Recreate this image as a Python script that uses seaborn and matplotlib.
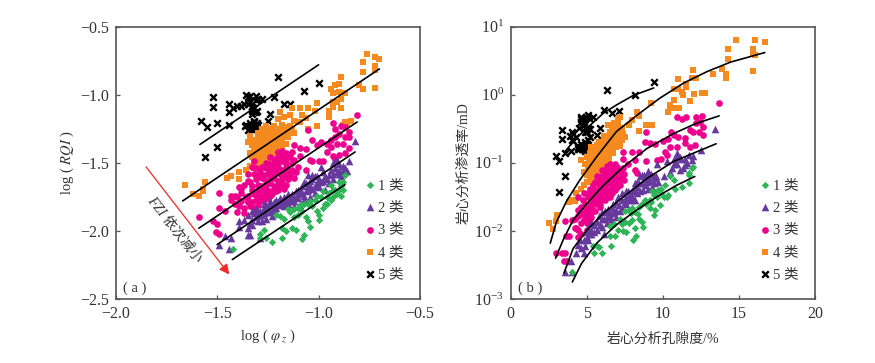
import numpy as np
import pandas as pd
import matplotlib
matplotlib.use("Agg")
import matplotlib.pyplot as plt
import seaborn as sns

sns.set_theme(style="ticks")
FONT = ['Liberation Serif', 'Noto Sans CJK SC', 'DejaVu Sans']
plt.rcParams['font.family'] = FONT
plt.rcParams['mathtext.fontset'] = 'stix'
plt.rcParams['axes.unicode_minus'] = True

CLASS_LABELS = ['1 类', '2 类', '3 类', '4 类', '5 类']
COLORS = ['#2FB457', '#663A9C', '#EC008C', '#F58A20', '#000000']
MARKERS = ['D', '^', 'o', 's', 'x']
SIZES = [14, 30, 23, 21, 22]

# panel (a): log(phi_z), log(RQI)
a1 = [(-1.42,-2.13),(-1.29,-2.02),(-1.27,-1.99),(-1.29,-2.05),(-1.26,-2.05),(-1.23,-2.08),(-1.18,-2.05),(-1.07,-2.03),
      (-1.08,-2.06),(-1.11,-1.99),(-1.18,-1.98),(-1.16,-2.0),(-1.19,-1.89),(-1.17,-1.91),(-1.14,-1.86),(-1.12,-1.90),
      (-1.10,-1.88),(-1.09,-1.81),(-1.07,-1.80),(-1.04,-1.78),(-1.06,-1.90),(-1.05,-1.93),(-1.04,-1.97),(-1.0,-1.92),
      (-1.0,-1.88),(-1.01,-1.85),(-0.98,-1.83),(-0.97,-1.80),(-0.94,-1.77),(-0.93,-1.75),(-0.95,-1.72),(-0.91,-1.73),
      (-0.89,-1.74),(-0.92,-1.70),(-0.89,-1.67),(-0.88,-1.64),(-0.87,-1.59),(-0.94,-1.66),(-0.99,-1.75),(-1.02,-1.77),
      (-1.12,-1.84),(-1.08,-1.85),(-0.90,-1.64),(-0.96,-1.75),(-0.98,-1.71),(-1.03,-1.82),(-1.13,-1.98),(-1.21,-1.88),
      (-1.10,-1.83),(-1.15,-1.84),(-1.05,-1.80),(-1.01,-1.74),(-0.96,-1.80),(-0.90,-1.70),(-0.88,-1.70),(-0.93,-1.70)]
a2 = [(-1.49,-2.10),(-1.44,-2.13),(-1.46,-2.04),(-1.43,-2.05),(-1.35,-2.03),(-1.34,-2.03),(-1.29,-2.05),(-1.39,-1.97),
      (-1.39,-1.93),(-1.35,-1.98),(-1.33,-1.96),(-1.33,-1.92),(-1.30,-1.93),(-1.28,-1.93),(-1.26,-1.91),(-1.23,-1.89),
      (-1.21,-1.87),(-1.32,-1.87),(-1.30,-1.85),(-1.27,-1.83),(-1.25,-1.83),(-1.22,-1.82),(-1.20,-1.81),(-1.17,-1.82),
      (-1.15,-1.80),(-1.12,-1.78),(-1.10,-1.76),(-1.07,-1.74),(-1.05,-1.70),(-1.03,-1.69),(-1.00,-1.68),(-1.26,-1.86),
      (-1.23,-1.85),(-1.21,-1.83),(-1.18,-1.78),(-1.16,-1.76),(-1.13,-1.73),(-1.11,-1.71),(-1.08,-1.67),(-1.06,-1.65),
      (-1.03,-1.62),(-1.01,-1.60),(-1.05,-1.59),(-1.03,-1.59),(-0.99,-1.64),(-0.97,-1.60),(-0.94,-1.55),(-0.93,-1.50),
      (-0.91,-1.48),(-0.90,-1.55),(-0.89,-1.60),(-0.87,-1.54),(-0.85,-1.49),(-0.82,-1.34),(-0.99,-1.53),(-0.97,-1.70),
      (-1.09,-1.81),(-1.12,-1.82),(-1.07,-1.77),(-1.04,-1.75),(-1.02,-1.72),(-0.93,-1.58),(-0.90,-1.58),(-0.88,-1.56),
      (-0.95,-1.65),(-1.30,-1.89),(-1.28,-1.88),(-1.35,-1.88),(-1.19,-1.76),(-1.14,-1.76),(-1.10,-1.70),(-1.08,-1.72),
      (-1.05,-1.66),(-1.01,-1.65),(-0.98,-1.57),(-0.95,-1.59),(-0.92,-1.54),(-1.24,-1.80),(-1.16,-1.79),(-1.27,-1.87),
      (-1.33,-1.85),(-1.31,-1.84),(-1.29,-1.85),(-1.27,-1.80),(-1.26,-1.81),(-1.24,-1.78),(-1.22,-1.79),(-1.21,-1.77),
      (-1.19,-1.80),(-1.17,-1.75),(-1.15,-1.73),(-1.14,-1.78),(-1.12,-1.75),(-1.10,-1.73),(-1.09,-1.69),(-1.07,-1.64),
      (-1.06,-1.71),(-1.04,-1.67),(-1.04,-1.63),(-1.02,-1.67),(-1.02,-1.60),(-1.00,-1.62),(-0.98,-1.63),(-0.96,-1.62),
      (-0.93,-1.62),(-0.91,-1.57),(-0.90,-1.51),(-0.88,-1.52),(-0.92,-1.49),(-0.86,-1.56),(-1.24,-1.86),(-1.31,-1.90),
      (-1.34,-1.94),(-1.37,-1.92)]
a3 = [(-0.81,-1.15),(-0.93,-1.21),(-0.92,-1.25),(-0.89,-1.23),(-0.87,-1.24),(-0.85,-1.27),(-0.85,-1.31),(-0.87,-1.31),
      (-0.90,-1.29),(-0.92,-1.31),(-0.94,-1.33),(-0.96,-1.36),(-0.99,-1.35),(-1.01,-1.37),(-1.03,-1.33),(-1.05,-1.26),
      (-0.88,-1.36),(-0.91,-1.36),(-0.94,-1.38),(-0.96,-1.42),(-0.93,-1.45),(-0.90,-1.44),(-0.87,-1.43),(-0.85,-1.39),
      (-0.92,-1.47),(-0.98,-1.49),(-1.0,-1.49),(-1.04,-1.48),(-1.12,-1.37),(-1.09,-1.39),(-1.06,-1.40),(-1.03,-1.49),
      (-1.12,-1.48),(-1.09,-1.45),(-1.13,-1.42),(-1.06,-1.55),
      (-1.20,-1.42),(-1.18,-1.41),(-1.16,-1.43),(-1.24,-1.46),(-1.22,-1.47),(-1.20,-1.46),(-1.18,-1.45),(-1.16,-1.47),
      (-1.14,-1.46),(-1.26,-1.50),(-1.24,-1.51),(-1.22,-1.50),(-1.20,-1.50),(-1.18,-1.49),(-1.16,-1.51),(-1.13,-1.50),
      (-1.31,-1.54),(-1.28,-1.53),(-1.26,-1.54),(-1.24,-1.55),(-1.22,-1.54),(-1.20,-1.53),(-1.18,-1.55),(-1.16,-1.54),
      (-1.13,-1.55),(-1.10,-1.53),(-1.32,-1.58),(-1.29,-1.57),(-1.27,-1.59),(-1.25,-1.58),(-1.23,-1.59),(-1.21,-1.57),
      (-1.19,-1.58),(-1.17,-1.59),(-1.14,-1.58),(-1.11,-1.57),(-1.31,-1.62),(-1.28,-1.61),(-1.26,-1.63),(-1.24,-1.62),
      (-1.22,-1.61),(-1.20,-1.63),(-1.18,-1.62),(-1.15,-1.62),(-1.12,-1.61),(-1.30,-1.66),(-1.28,-1.67),(-1.26,-1.66),
      (-1.24,-1.65),(-1.22,-1.67),(-1.20,-1.66),(-1.18,-1.65),(-1.16,-1.66),(-1.33,-1.70),(-1.30,-1.71),(-1.28,-1.70),
      (-1.26,-1.69),(-1.24,-1.71),(-1.22,-1.70),(-1.20,-1.70),(-1.35,-1.74),(-1.32,-1.73),(-1.30,-1.75),(-1.28,-1.74),
      (-1.26,-1.73),(-1.24,-1.74),(-1.35,-1.78),(-1.33,-1.79),(-1.31,-1.77),(-1.29,-1.78),(-1.34,-1.82),(-1.32,-1.83),
      (-1.30,-1.81),(-1.59,-1.90),(-1.49,-1.72),(-1.49,-1.83),(-1.46,-1.85),(-1.52,-1.93),(-1.50,-1.95),(-1.505,-2.01),
      (-1.49,-2.02),(-1.43,-1.77),(-1.43,-1.74),(-1.41,-1.74),(-1.40,-1.75),(-1.38,-1.69),(-1.39,-1.68),(-1.35,-1.63),
      (-1.35,-1.58),(-1.34,-1.64),(-1.33,-1.67),(-1.39,-1.82),(-1.40,-1.86),(-1.37,-1.87),(-1.37,-1.83),(-1.35,-1.79),
      (-1.14,-1.60),(-1.17,-1.69),(-1.19,-1.68),(-1.23,-1.73),(-1.21,-1.71),(-1.33,-1.53),(-1.30,-1.60),(-1.41,-1.80),
      (-1.38,-1.78),(-1.36,-1.75),(-1.38,-1.72),(-1.37,-1.66),(-1.32,-1.49),(-1.16,-1.56),(-1.27,-1.77),(-1.25,-1.76)]
a4 = [(-1.66,-1.66),(-1.62,-1.73),(-1.59,-1.74),(-1.56,-1.64),(-1.57,-1.69),(-1.57,-1.71),(-1.45,-1.61),(-1.43,-1.60),
      (-1.39,-1.57),(-1.39,-1.62),(-1.36,-1.55),(-1.34,-1.52),(-1.31,-1.50),
      (-0.76,-0.70),(-0.72,-0.72),(-0.70,-0.74),(-0.78,-0.76),(-0.72,-0.79),(-0.72,-0.82),(-0.78,-0.83),(-0.80,-0.93),
      (-0.72,-0.95),(-0.78,-0.96),(-0.89,-0.87),(-0.92,-0.93),(-0.90,-0.92),(-0.94,-0.96),(-0.93,-0.99),(-0.87,-0.99),
      (-0.90,-0.98),(-0.89,-1.03),(-0.93,-1.05),(-0.91,-1.05),(-0.89,-1.10),(-0.93,-1.09),(-0.95,-1.12),(-0.95,-1.16),
      (-1.01,-1.06),(-1.05,-1.10),(-1.09,-1.10),(-1.13,-1.10),(-1.19,-1.13),(-1.17,-1.16),(-1.14,-1.15),(-1.08,-1.15),
      (-1.06,-1.17),(-1.09,-1.20),(-1.12,-1.19),(-1.02,-1.12),(-1.05,-1.25),(-1.01,-1.23),
      (-1.20,-1.18),(-1.18,-1.22),(-1.16,-1.24),(-1.14,-1.23),(-1.12,-1.28),(-1.22,-1.23),(-1.24,-1.25),(-1.26,-1.23),
      (-1.28,-1.25),(-1.34,-1.30),(-1.35,-1.35),(-1.30,-1.28),(-1.27,-1.29),(-1.25,-1.29),(-1.22,-1.28),(-1.20,-1.29),
      (-1.17,-1.30),(-1.15,-1.31),(-1.29,-1.33),(-1.27,-1.34),(-1.25,-1.34),(-1.22,-1.34),(-1.19,-1.35),(-1.16,-1.36),
      (-1.33,-1.37),(-1.31,-1.39),(-1.28,-1.39),(-1.26,-1.39),(-1.23,-1.39),(-1.21,-1.40),(-1.34,-1.43),(-1.32,-1.44),
      (-1.29,-1.44),(-1.27,-1.44),(-1.24,-1.44),(-1.22,-1.43),(-1.32,-1.48),(-1.30,-1.48),(-1.27,-1.48),(-1.25,-1.48),
      (-1.31,-1.52),(-1.28,-1.52),(-1.32,-1.54),(-0.87,-1.20),(-0.86,-1.21),(-0.88,-1.22),(-0.84,-1.19),
      (-1.32,-1.33),(-1.30,-1.31),(-1.28,-1.30),(-1.26,-1.27),(-1.24,-1.28),(-1.21,-1.25),(-1.19,-1.25),(-1.17,-1.26),
      (-1.15,-1.27),(-1.13,-1.25),(-1.18,-1.32),(-1.20,-1.32),(-1.23,-1.31),(-1.26,-1.32),(-1.30,-1.36),(-1.27,-1.37),
      (-1.24,-1.37),(-1.21,-1.37),(-1.18,-1.38),(-1.32,-1.41),(-1.30,-1.42),(-1.28,-1.42),(-1.25,-1.42),(-1.23,-1.42),
      (-1.33,-1.46),(-1.31,-1.46),(-1.29,-1.47),(-1.26,-1.46),(-1.30,-1.50),(-1.28,-1.50),(-1.32,-1.51)]
a5 = [(-1.52,-1.02),(-1.52,-1.09),(-1.58,-1.19),(-1.55,-1.24),(-1.50,-1.21),(-1.44,-1.22),(-1.50,-1.38),(-1.56,-1.46),
      (-1.44,-1.07),(-1.44,-1.13),(-1.42,-1.10),(-1.38,-1.08),(-1.36,-1.00),(-1.35,-1.02),(-1.31,-1.01),(-1.28,-1.03),
      (-1.35,-1.07),(-1.32,-1.10),(-1.305,-1.12),(-1.33,-1.14),(-1.365,-1.23),(-1.345,-1.23),(-1.32,-1.20),(-1.305,-1.21),
      (-1.33,-1.25),(-1.31,-1.24),(-1.33,-1.22),(-1.35,-1.26),(-1.25,-1.19),(-1.24,-1.14),(-1.22,-1.02),(-1.20,-0.87),
      (-1.17,-1.07),(-1.14,-1.07),(-1.07,-0.97),(-1.00,-0.91),(-1.33,-1.25),(-1.31,-1.04),(-1.33,-1.12),(-1.31,-1.13),
      (-1.32,-1.23),(-1.34,-1.21),(-1.32,-1.26),(-1.30,-1.22),(-1.36,-1.22),(-1.34,-1.24),(-1.32,-1.19),(-1.37,-1.07),
      (-1.34,-1.05),(-1.32,-1.13),(-1.34,-1.01),(-1.30,-1.03),(-1.40,-1.08),(-1.33,-1.09)]
a_lines = [[(-1.425,-2.21),(-0.87,-1.66)], [(-1.50,-2.10),(-0.82,-1.42)], [(-1.59,-1.98),(-0.81,-1.20)],
           [(-1.67,-1.78),(-0.70,-0.81)], [(-1.585,-1.365),(-1.0,-0.78)]]

# panel (b): porosity %, log10 permeability
b1 = [(4.05,-2.61),(5.4,-2.22),(5.65,-2.22),(5.5,-2.32),(6.0,-2.32),(5.8,-2.24),(6.6,-2.22),(6.5,-2.08),(6.85,-2.08),
      (6.5,-1.93),(6.8,-1.9),(7.05,-1.98),(7.6,-2.02),(8.05,-2.14),(8.25,-2.08),(7.2,-1.82),(7.5,-1.87),(7.75,-1.89),
      (7.95,-1.84),(7.75,-1.69),(8.0,-1.67),(8.4,-1.82),(8.6,-1.87),(8.7,-1.94),(8.4,-1.65),(8.6,-1.6),(9.15,-1.55),
      (9.4,-1.77),(9.5,-1.69),(9.8,-1.62),(9.4,-1.47),(9.7,-1.4),(10.25,-1.5),(10.35,-1.47),(10.15,-1.33),(10.45,-1.2),
      (10.7,-1.25),(10.8,-1.38),(11.25,-1.35),(11.7,-1.3),(11.7,-1.18),(11.75,-1.15),(12.0,-1.06),(11.9,-1.08),(9.6,-1.5),
      (9.15,-1.67),(8.9,-1.6),(7.9,-1.74),(8.2,-1.72),(9.3,-1.42),(9.9,-1.38),(9.2,-1.58),(9.9,-1.45),(10.05,-1.5),
      (9.5,-1.43),(8.8,-1.55),(7.5,-1.7),(7.3,-1.9),(8.2,-1.95),(8.35,-1.75),(7.4,-2.0)]
b2 = [(3.55,-2.61),(4.0,-2.61),(3.95,-2.44),(4.3,-2.32),(4.8,-2.32),(4.4,-2.21),(4.9,-2.22),(4.55,-2.13),(4.8,-2.13),
      (5.1,-2.13),(5.0,-2.01),(5.3,-1.99),(5.65,-1.99),(6.0,-1.94),(6.1,-2.04),(5.3,-1.89),(5.65,-1.87),(6.0,-1.82),
      (6.3,-1.79),(6.3,-1.89),(6.65,-1.74),(6.95,-1.69),(6.95,-1.79),(7.3,-1.67),(7.3,-1.55),(6.65,-1.65),(7.6,-1.5),
      (7.6,-1.6),(7.95,-1.42),(7.95,-1.55),(8.3,-1.35),(8.3,-1.45),(8.5,-1.2),(8.6,-1.3),(8.95,-1.18),(8.95,-1.28),
      (9.05,-1.38),(9.4,-1.2),(9.4,-1.3),(9.6,-1.01),(9.7,-1.28),(10.05,-1.2),(10.25,-0.98),(10.45,-1.13),(10.7,-0.94),
      (10.9,-0.86),(11.1,-0.91),(11.1,-1.11),(11.45,-1.03),(11.7,-0.89),(11.9,-0.96),(12.5,-0.81),(13.4,-0.51),(7.3,-1.45),
      (6.95,-1.57),(8.15,-1.55),(8.7,-1.4),(7.6,-1.42),(10.7,-1.01),(10.9,-1.01),(11.45,-0.94),(8.3,-1.28),(8.6,-1.18),
      (9.25,-1.16),(6.65,-1.87),(5.0,-2.09),(5.3,-2.04),(7.1,-1.62),(7.8,-1.48),(8.1,-1.38),(8.8,-1.24),(9.1,-1.22),
      (6.2,-1.70),(6.5,-1.78),(5.9,-1.92),(9.55,-1.20),
      (5.2,-2.05),(5.5,-1.92),(5.8,-1.78),(6.1,-1.82),(6.4,-1.68),(6.7,-1.6),(6.8,-1.72),(7.05,-1.5),(7.2,-1.7),(7.5,-1.58),
      (7.7,-1.42),(7.75,-1.55),(8.0,-1.48),(8.15,-1.3),(8.2,-1.42),(8.45,-1.3),(8.5,-1.42),(8.75,-1.18),(8.8,-1.32),(9.0,-1.12),
      (9.15,-1.26),(9.3,-1.35),(9.5,-1.22),(10.9,-0.92),(11.2,-0.95),(11.6,-1.0),(10.6,-1.08),(11.3,-1.07),(12.0,-0.9),
      (5.5,-2.02),(5.1,-1.95),(4.6,-2.25),(6.0,-1.72),(6.3,-1.72),(6.6,-1.82)]
b3 = [(3.0,-2.32),(3.35,-2.32),(3.55,-2.32),(3.5,-2.44),(3.7,-2.44),(3.65,-2.08),(3.85,-2.08),(3.6,-1.85),(4.05,-1.84),
      (4.2,-1.82),(4.4,-1.69),(4.55,-1.74),(4.3,-1.96),(4.45,-1.99),(4.45,-2.09),(4.75,-1.55),(4.9,-1.6),(4.8,-1.45),
      (4.8,-1.84),(5.0,-1.79),(5.0,-1.89),(4.65,-1.89),(5.2,-1.74),(5.3,-1.67),(5.1,-1.5),(5.2,-1.38),(5.55,-1.4),
      (5.55,-1.5),(5.55,-1.6),(5.85,-1.25),(5.85,-1.35),(5.85,-1.45),(5.85,-1.55),(5.85,-1.65),(6.2,-1.16),(6.2,-1.25),
      (6.2,-1.35),(6.2,-1.45),(6.2,-1.55),(6.5,-1.01),(6.5,-1.11),(6.5,-1.2),(6.5,-1.3),(6.5,-1.4),(6.5,-1.5),(6.85,-1.01),
      (6.85,-1.11),(6.85,-1.2),(6.85,-1.3),(6.85,-1.4),(7.2,-1.13),(7.2,-1.23),(7.2,-1.33),(7.45,-1.16),(7.45,-1.25),
      (7.4,-0.84),(7.95,-0.84),(8.45,-0.84),(7.35,-0.94),(7.7,-1.01),(8.15,-0.96),(8.9,-0.98),(8.15,-1.11),(8.3,-1.15),
      (8.9,-0.54),(8.8,-0.69),(9.15,-0.71),(9.5,-0.72),(10.0,-0.68),(10.35,-0.65),(10.55,-0.54),(10.7,-0.59),(10.95,-0.32),
      (11.25,-0.36),(11.5,-0.33),(12.2,-0.32),(12.55,-0.31),(12.65,-0.47),(12.65,-0.59),(13.7,-0.12),(11.0,-0.62),
      (11.45,-0.64),(11.8,-0.52),(12.0,-0.54),(12.1,-0.74),(11.8,-0.76),(11.45,-0.71),(10.9,-0.76),(10.45,-0.76),(10.15,-0.84),
      (9.6,-0.96),(9.9,-0.95),(10.25,-0.89),(12.2,-0.42),(12.45,-0.4),(12.35,-0.54),
      (5.4,-1.32),(5.7,-1.2),(6.0,-1.1),(6.35,-1.05),(6.7,-1.16),(7.0,-1.06),(5.4,-1.55),(5.7,-1.5),(6.0,-1.4),(6.35,-1.2),
      (6.65,-1.25),(7.0,-1.35),(5.0,-1.67),(5.3,-1.5),(4.6,-1.65),(4.4,-1.5),(5.9,-1.6),(6.35,-1.5),(7.35,-1.08),(5.1,-1.45),
      (5.2,-1.6),(5.2,-1.82),(5.4,-1.7),(5.4,-1.45),(5.7,-1.42),(5.7,-1.3),(5.7,-1.58),(6.0,-1.3),(6.0,-1.2),(6.0,-1.47),
      (6.35,-1.12),(6.35,-1.3),(6.35,-1.42),(6.65,-1.07),(6.65,-1.35),(6.65,-1.45),(7.0,-1.13),(7.0,-1.25),(7.3,-1.2),
      (5.55,-1.28),(5.55,-1.7),(4.9,-1.72),(4.7,-1.75),(5.1,-1.85),(5.0,-1.98),(5.3,-1.8),(4.65,-2.05),(4.2,-1.95),(4.4,-1.78)]
b4 = [(2.55,-1.89),(2.75,-1.97),(3.05,-1.76),(3.0,-1.85),(4.05,-1.55),(3.85,-1.57),(4.2,-1.56),(4.3,-1.45),(4.6,-1.39),
      (4.8,-1.32),(5.0,-1.28),(4.8,-1.13),(4.65,-0.96),(4.9,-1.01),(5.1,-1.06),(5.3,-1.16),(5.2,-0.86),(5.0,-0.91),
      (5.45,-0.96),(5.65,-1.03),(5.55,-1.11),(5.75,-0.94),(6.0,-1.01),(5.85,-0.86),(6.2,-0.91),(6.5,-0.86),(6.4,-0.76),
      (6.1,-0.71),(5.65,-0.74),(5.3,-0.76),(6.75,-0.71),(6.95,-0.76),(7.3,-0.67),(6.4,-0.62),(6.75,-0.59),(7.05,-0.57),
      (7.3,-0.49),(6.4,-0.45),(6.65,-0.47),(6.95,-0.47),(7.2,-0.32),(7.05,-0.36),(7.75,-0.45),(8.0,-0.37),(8.3,-0.25),
      (8.45,-0.31),(8.45,-0.53),(8.9,-0.44),(9.3,-0.45),(9.2,-0.12),(5.85,-0.79),(6.2,-0.79),(6.5,-0.69),(6.1,-1.08),
      (5.75,-1.13),(5.3,-1.23),(5.55,-1.2),(5.2,-1.28),(5.0,-1.18),(5.5,-0.85),(5.9,-0.95),(6.3,-0.98),(6.7,-0.85),
      (7.0,-0.65),(7.2,-0.75),
      (5.2,-1.15),(5.4,-1.10),(5.15,-0.98),(5.35,-1.03),(5.5,-1.0),(5.3,-0.9),(5.6,-0.9),(5.75,-1.05),(5.95,-1.08),(6.1,-0.98),
      (6.3,-0.9),(6.05,-0.85),(5.7,-0.82),(5.5,-0.78),(5.95,-0.78),(6.35,-0.82),(6.6,-0.78),(6.6,-0.62),(6.9,-0.65),(7.1,-0.7),
      (6.55,-0.55),(6.85,-0.52),(7.15,-0.52),(6.3,-0.68),(6.0,-0.7),(5.8,-0.7),(6.15,-0.6),(5.4,-1.22),(5.2,-1.2),(5.05,-1.12),
      (6.45,-0.95),(7.4,-0.58),(7.5,-0.62),(6.8,-0.42),(7.05,-0.42),
      (10.35,-0.25),(10.5,-0.15),(10.75,-0.19),(11.05,-0.19),(10.7,0.09),(11.0,0.08),(11.0,0.23),(11.35,0.0),(11.5,0.16),
      (11.9,0.24),(12.2,0.25),(12.0,0.36),(11.8,-0.09),(12.05,0.01),(12.55,0.03),(12.75,0.03),(13.3,0.31),(13.9,0.38),
      (14.15,0.30),(14.15,0.24),(14.25,0.53),(14.25,0.67),(14.8,0.80),(16.05,0.80),(16.7,0.77),(15.95,0.67),(15.95,0.61),
      (16.05,0.58),(15.95,0.35),(10.7,-0.08),(10.45,-0.2),(11.55,0.11),(11.25,0.04)]
b5 = [(3.4,-0.52),(3.4,-0.65),(4.0,-0.54),(3.9,-0.61),(4.1,-0.58),(4.0,-0.66),(3.0,-0.90),(3.2,-0.98),(3.6,-0.86),
      (3.95,-0.82),(3.6,-1.19),(3.15,-1.43),(4.6,-0.33),(4.8,-0.35),(5.1,-0.30),(5.4,-0.32),(4.7,-0.44),(5.1,-0.49),
      (4.9,-0.54),(4.5,-0.49),(5.9,-0.49),(5.7,-0.59),(4.55,-0.76),(4.75,-0.79),(5.0,-0.72),(5.1,-0.67),(4.8,-0.74),
      (4.45,-0.79),(6.3,0.07),(8.15,-0.01),(9.4,0.19),(6.1,-0.23),(6.65,-0.27),(7.1,-0.24),(4.6,-0.40),(4.8,-0.40),
      (5.0,-0.50),(5.2,-0.50),(4.7,-0.80),(4.9,-0.78),(4.6,-0.72),(4.7,-0.76),(4.9,-0.7),(4.5,-0.8),(4.9,-0.82),(5.2,-0.62),
      (4.7,-0.36),(4.95,-0.33),(5.2,-0.36),(4.6,-0.35),(5.0,-0.54),(4.3,-0.62),(4.1,-0.68),(4.85,-0.45),(4.4,-0.77),(5.05,-0.78)]
b_curves = [
    [(4.05,-2.75),(4.65,-2.48),(5.65,-2.18),(6.95,-1.91),(8.3,-1.69),(9.6,-1.50),(10.9,-1.33),(12.1,-1.20)],
    [(3.5,-2.62),(4.1,-2.26),(5.0,-1.99),(6.1,-1.74),(7.4,-1.50),(8.95,-1.23),(10.7,-0.98),(12.2,-0.84),(13.5,-0.72)],
    [(2.95,-2.40),(3.45,-2.13),(4.1,-1.84),(5.0,-1.60),(6.1,-1.33),(7.4,-1.06),(8.95,-0.79),(10.7,-0.57),(12.2,-0.42),(13.7,-0.31)],
    [(2.6,-2.18),(3.0,-1.87),(3.7,-1.55),(4.55,-1.25),(5.65,-0.91),(6.95,-0.54),(8.3,-0.30),(9.8,-0.05),(11.35,0.17),(12.9,0.34),(14.45,0.48),(16.7,0.62)],
    [(3.55,-0.84),(4.1,-0.69),(4.8,-0.53),(5.45,-0.40),(6.1,-0.27),(6.95,-0.15),(8.05,-0.01),(9.4,0.10)],
]

W, H = 875, 363
fig = plt.figure(figsize=(W/100, H/100), dpi=100, facecolor='white')
axa = fig.add_axes([115.7/W, (H-299)/H, 304.3/W, 272.3/H])
axb = fig.add_axes([510.7/W, (H-299)/H, 304.3/W, 272.3/H])
TXT = '#333333'
FS = 10
TICK_FS = 11.5

def scatter(ax, pts, i, logy=False):
    df = pd.DataFrame(pts, columns=['x', 'y'])
    if logy:
        df['y'] = np.power(10.0, df['y'])
    kw = dict(linewidth=1.7) if MARKERS[i] == 'x' else dict(linewidth=0)
    sns.scatterplot(data=df, x='x', y='y', ax=ax, marker=MARKERS[i], color=COLORS[i],
                    s=SIZES[i], label=CLASS_LABELS[i], zorder=3, **kw)

for i, pts in reversed(list(enumerate([a1, a2, a3, a4, a5]))):
    scatter(axa, pts, i)
for i, pts in reversed(list(enumerate([b1, b2, b3, b4, b5]))):
    scatter(axb, pts, i, logy=True)

for seg in a_lines:
    d = pd.DataFrame(seg, columns=['x', 'y'])
    sns.lineplot(data=d, x='x', y='y', ax=axa, color='black', lw=1.2, zorder=4, legend=False, sort=False, errorbar=None)
for c in b_curves:
    d = pd.DataFrame(c, columns=['x', 'y'])
    d['y'] = np.power(10.0, d['y'])
    sns.lineplot(data=d, x='x', y='y', ax=axb, color='black', lw=1.2, zorder=4, legend=False, sort=False, errorbar=None)

axa.set_xlim(-2.0, -0.5); axa.set_ylim(-2.5, -0.5)
axa.set_xticks([-2.0, -1.5, -1.0, -0.5]); axa.set_yticks([-2.5, -2.0, -1.5, -1.0, -0.5])
axa.set_xticklabels(['\u22122.0', '\u22121.5', '\u22121.0', '\u22120.5'])
axa.set_yticklabels(['\u22122.5', '\u22122.0', '\u22121.5', '\u22121.0', '\u22120.5'])
axb.set_xlim(0, 20); axb.set_yscale('log'); axb.set_ylim(1e-3, 1e1)
axb.set_xticks([0, 5, 10, 15, 20]); axb.set_yticks([1e-3, 1e-2, 1e-1, 1e0, 1e1])
axb.minorticks_off()
axa.set_xlabel('log ( $\\varphi_{\\,z}$ )', fontsize=10.5, color=TXT, labelpad=4)
axa.set_ylabel('log ( $\\mathit{RQI}$ )', fontsize=10.5, color=TXT, labelpad=3)
axb.set_xlabel('岩心分析孔隙度/%', fontsize=FS, color=TXT, labelpad=8)
axb.set_ylabel('岩心分析渗透率/mD', fontsize=FS, color=TXT, labelpad=3)

for ax, tag in [(axa, '( a )'), (axb, '( b )')]:
    for name, s in ax.spines.items():
        s.set_color('#555555'); s.set_linewidth(1.2); s.set_visible(True)
    ax.tick_params(axis='both', which='major', direction='in', length=3, width=0.9, color='#555555',
                   labelsize=TICK_FS, labelcolor=TXT, pad=5)
    ax.text(0.025, 0.04, tag, transform=ax.transAxes, fontsize=10.5, color=TXT, va='center')
    h, l = ax.get_legend_handles_labels()
    ax.legend(h[::-1], l[::-1], loc='lower right', bbox_to_anchor=(0.946, 0.065), frameon=False, fontsize=10.5,
              labelspacing=0.63, handletextpad=0.05, handlelength=1.0, borderpad=0, borderaxespad=0, labelcolor=TXT)

axa.annotate('', xy=(-1.44, -2.32), xytext=(-1.85, -1.53), zorder=5,
             arrowprops=dict(arrowstyle='-|>', color='#EE2A2A', lw=0.9, mutation_scale=15, shrinkA=0, shrinkB=0))
axa.text(-1.708, -1.99, 'FZI 依次减小', rotation=-52, rotation_mode='anchor', ha='center', va='center',
         fontsize=FS, color=TXT, style='italic')
fig.savefig('out.png', dpi=100)
